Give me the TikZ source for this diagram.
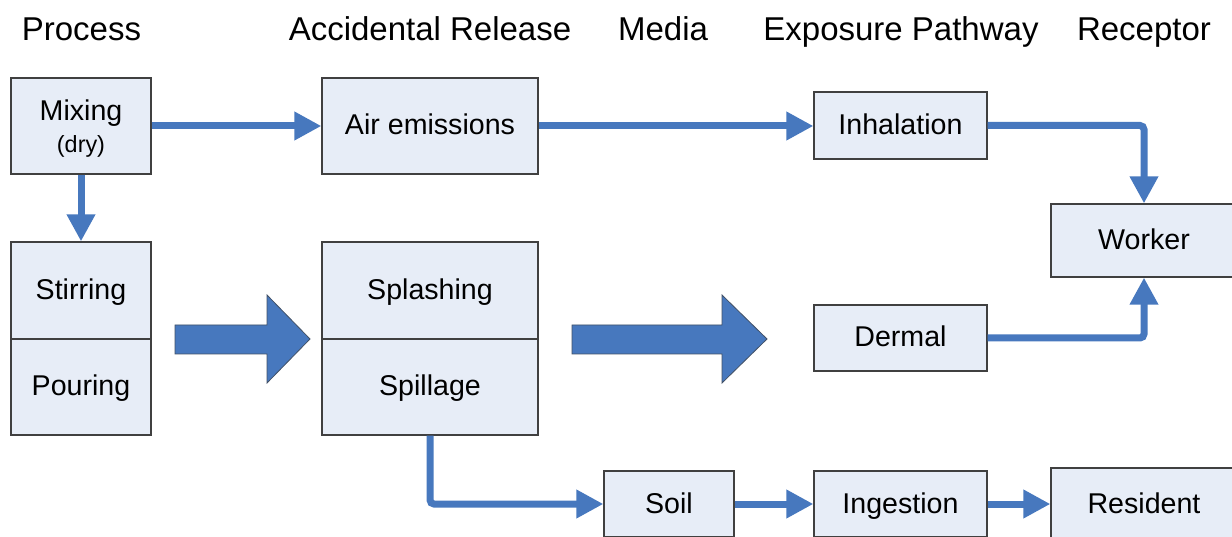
\documentclass[tikz,border=0pt]{standalone}
\usepackage{fontspec}
\setmainfont{Liberation Sans}
\usetikzlibrary{arrows.meta}
\definecolor{flowblue}{RGB}{71,120,190}
\definecolor{boxfill}{RGB}{231,237,247}
\definecolor{boxline}{RGB}{64,64,64}
\begin{document}
\begin{tikzpicture}[x=1pt,y=1pt,
  box/.style={draw=boxline, fill=boxfill, line width=1.2pt, inner sep=0pt,
    font=\fontsize{28.6}{34}\selectfont, text height=23.5pt, text depth=5.5pt},
  boxtext/.style={anchor=base, font=\fontsize{28.6}{34}\selectfont},
  smalltext/.style={anchor=base, font=\fontsize{23.4}{28}\selectfont},
  heading/.style={anchor=base, font=\fontsize{33}{40}\selectfont},
  flow/.style={draw=flowblue, line width=7pt, rounded corners=4pt,
    -{Triangle[length=27pt,width=27pt]}},
  bigarrow/.style={fill=flowblue, draw=boxline!70!flowblue, line width=0.8pt}]
\fill[white] (0,0) rectangle (1232,536);
\useasboundingbox (0,0) rectangle (1232,536);
\clip (0,0) rectangle (1232,536);

% column headings
\node[heading] (hproc) at (81.5,495) {Process};
\node[heading] (hrel)  at (430,495) {Accidental Release};
\node[heading] (hmed)  at (663,495) {Media};
\node[heading] (hexp)  at (901,495) {Exposure Pathway};
\node[heading] (hrec)  at (1144,495) {Receptor};

% process boxes
\node[box, minimum width=140, minimum height=96] (mix) at (81,410) {};
\node[boxtext]   (mixlbl) at (81,415) {Mixing};
\node[smalltext] (drylbl) at (81,383) {(dry)};
\node[box, minimum width=140, minimum height=97] (stir) at (81,245.5) {Stirring};
\node[box, minimum width=140, minimum height=96] (pour) at (81,149) {Pouring};

% release boxes
\node[box, minimum width=216, minimum height=96] (air) at (430,410) {Air emissions};
\node[box, minimum width=216, minimum height=97] (splash) at (430,245.5) {Splashing};
\node[box, minimum width=216, minimum height=96] (spill) at (430,149) {Spillage};

% media
\node[box, minimum width=130, minimum height=66] (soil) at (669,32) {Soil};

% exposure pathways
\node[box, minimum width=173, minimum height=67] (inh)  at (900.5,410.5) {Inhalation};
\node[box, minimum width=173, minimum height=66] (derm) at (900.5,198) {Dermal};
\node[box, minimum width=173, minimum height=66] (ing)  at (900.5,32) {Ingestion};

% receptors
\node[box, minimum width=186, minimum height=73] (wrk) at (1144,295.5) {Worker};
\node[box, minimum width=186, minimum height=73] (res) at (1144,31.5) {Resident};

% broad arrows between groups
\path[bigarrow] (175,211) -- (267,211) -- (267,241) -- (310,197)
  -- (267,153) -- (267,182) -- (175,182) -- cycle;
\path[bigarrow] (572,211) -- (722,211) -- (722,241) -- (767,197)
  -- (722,153) -- (722,182) -- (572,182) -- cycle;

% connectors
\draw[flow] (mix.east) -- (air.west);
\draw[flow] (mix.south) -- (stir.north);
\draw[flow] (air.east) -- (air.east -| inh.west);
\draw[flow] (inh.east) -| (wrk.north);
\draw[flow] (derm.east) -| (wrk.south);
\draw[flow] (spill.south) |- (soil.west);
\draw[flow] (soil.east) -- (ing.west);
\draw[flow] (ing.east) -- (ing.east -| res.west);
\end{tikzpicture}
\end{document}
